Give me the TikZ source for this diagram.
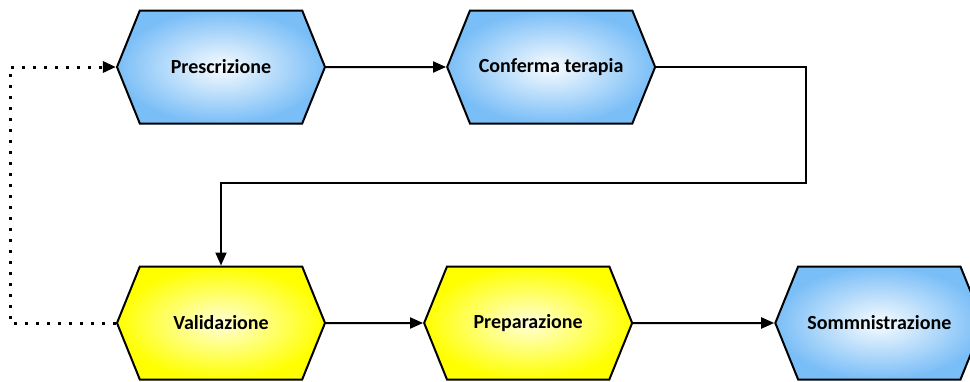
\documentclass[tikz,border=0pt]{standalone}
\usepackage{fontspec}
\setmainfont{Carlito}
\usepackage{tikz}
\usetikzlibrary{shapes.symbols}
\usetikzlibrary{positioning}
\usetikzlibrary{arrows.meta}

\definecolor{stepblue}{RGB}{122,190,247}
\definecolor{stepyellow}{RGB}{255,255,0}

\tikzset{
    hexbox/.style={signal, signal to=east and west, signal pointer angle=136,
        draw, line width=2pt, minimum width=208pt, minimum height=113pt,
        inner sep=0pt, font=\fontsize{20}{24}\selectfont\bfseries},
    bluebox/.style={hexbox, inner color=white!95!stepblue, outer color=stepblue},
    yellowbox/.style={hexbox, inner color=white!85!stepyellow, outer color=stepyellow},
    flow/.style={line width=2pt, -{Triangle[length=13pt,width=11pt]}},
    backflow/.style={line width=3pt, dash pattern=on 3pt off 8pt, -{Triangle[length=13pt,width=11pt]}}
}

\begin{document}
\begin{tikzpicture}[x=1pt, y=-1pt]
                \clip (0,0) rectangle (970,381);
                % riga superiore
                \node[bluebox] (prescrizione) at (221,67) {Prescrizione};
                \node[bluebox, right=120pt of prescrizione] (conferma) {Conferma terapia};
                % riga inferiore
                \node[yellowbox] (validazione) at (221,323) {Validazione};
                \node[yellowbox, right=97pt of validazione] (preparazione) {Preparazione};
                \node[bluebox, right=141pt of preparazione] (somministrazione) {Sommnistrazione};
                % collegamenti
                \coordinate (giro) at (806,183);
                \coordinate (ritorno) at (10,200);
                \draw[flow] (prescrizione) -- (conferma);
                \draw[flow] (conferma.east) -| (giro) -| (validazione.north);
                \draw[flow] (validazione) -- (preparazione);
                \draw[flow] (preparazione) -- (somministrazione);
                \draw[backflow] (validazione.west) -| (ritorno) |- (prescrizione.west);
            \end{tikzpicture}
\end{document}
